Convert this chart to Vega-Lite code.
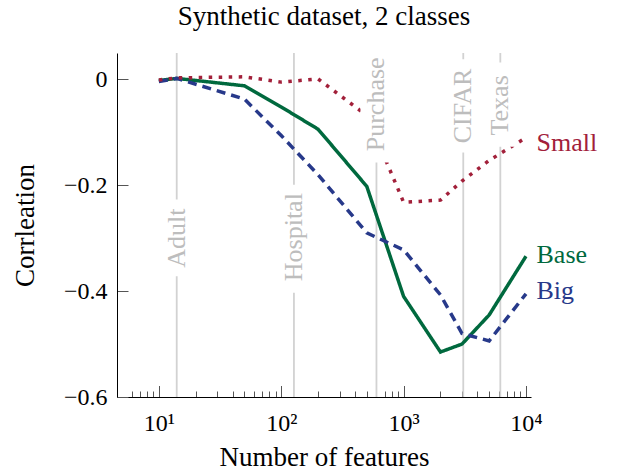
{
  "$schema": "https://vega.github.io/schema/vega-lite/v6.json",
  "width": 414,
  "height": 344,
  "autosize": {"type": "none"},
  "padding": {"left": 117, "top": 53, "right": 89, "bottom": 77},
  "background": "white",
  "config": {"view": {"stroke": null}, "font": "Liberation Serif"},
  "title": {"text": "Synthetic dataset, 2 classes", "font": "Liberation Serif", "fontSize": 27, "fontWeight": "normal", "color": "black", "anchor": "middle", "baseline": "alphabetic", "offset": 0},
  "datasets": {
    "series": [
      {"features": 10, "corr": -0.002, "model": "Base"},
      {"features": 14, "corr": 0.002, "model": "Base"},
      {"features": 50, "corr": -0.012, "model": "Base"},
      {"features": 100, "corr": -0.052, "model": "Base"},
      {"features": 200, "corr": -0.094, "model": "Base"},
      {"features": 500, "corr": -0.202, "model": "Base"},
      {"features": 1000, "corr": -0.41, "model": "Base"},
      {"features": 2000, "corr": -0.515, "model": "Base"},
      {"features": 3000, "corr": -0.5, "model": "Base"},
      {"features": 5000, "corr": -0.445, "model": "Base"},
      {"features": 10000, "corr": -0.334, "model": "Base"},
      {"features": 10, "corr": -0.004, "model": "Big"},
      {"features": 14, "corr": 0.002, "model": "Big"},
      {"features": 50, "corr": -0.037, "model": "Big"},
      {"features": 100, "corr": -0.106, "model": "Big"},
      {"features": 200, "corr": -0.18, "model": "Big"},
      {"features": 500, "corr": -0.29, "model": "Big"},
      {"features": 1000, "corr": -0.322, "model": "Big"},
      {"features": 2000, "corr": -0.407, "model": "Big"},
      {"features": 3000, "corr": -0.48, "model": "Big"},
      {"features": 5000, "corr": -0.494, "model": "Big"},
      {"features": 10000, "corr": -0.405, "model": "Big"},
      {"features": 10, "corr": -0.001, "model": "Small"},
      {"features": 14, "corr": 0.003, "model": "Small"},
      {"features": 50, "corr": 0.005, "model": "Small"},
      {"features": 100, "corr": -0.005, "model": "Small"},
      {"features": 200, "corr": 0.001, "model": "Small"},
      {"features": 500, "corr": -0.068, "model": "Small"},
      {"features": 1000, "corr": -0.232, "model": "Small"},
      {"features": 2000, "corr": -0.228, "model": "Small"},
      {"features": 3000, "corr": -0.192, "model": "Small"},
      {"features": 5000, "corr": -0.153, "model": "Small"},
      {"features": 10000, "corr": -0.11, "model": "Small"}
    ],
    "datasetsMarks": [
      {"name": "Adult", "features": 14, "corr": -0.3, "top": -0.227, "bottom": -0.372},
      {"name": "Hospital", "features": 127, "corr": -0.298, "top": -0.199, "bottom": -0.403},
      {"name": "Purchase", "features": 600, "corr": -0.047, "top": 0.05, "bottom": -0.157},
      {"name": "CIFAR", "features": 3072, "corr": -0.05, "top": 0.038, "bottom": -0.138},
      {"name": "Texas", "features": 6169, "corr": -0.049, "top": 0.032, "bottom": -0.127}
    ],
    "endLabels": [
      {"model": "Small", "features": 10000, "corr": -0.121},
      {"model": "Base", "features": 10000, "corr": -0.332},
      {"model": "Big", "features": 10000, "corr": -0.399}
    ]
  },
  "encoding": {
    "x": {
      "field": "features", "type": "quantitative",
      "scale": {"type": "log", "domain": [5, 10000], "nice": false},
      "axis": {
        "values": [6, 7, 8, 9, 10, 20, 30, 40, 50, 60, 70, 80, 90, 100, 200, 300, 400, 500, 600, 700, 800, 900, 1000, 2000, 3000, 4000, 5000, 6000, 7000, 8000, 9000, 10000],
        "labelExpr": "datum.value == 10 ? '10¹' : datum.value == 100 ? '10²' : datum.value == 1000 ? '10³' : datum.value == 10000 ? '10⁴' : ''",
        "tickSize": {"condition": {"test": "indexof([10, 100, 1000, 10000], datum.value) >= 0", "value": -11.5}, "value": -6},
        "tickColor": "#555", "tickWidth": 1,
        "labelFont": "Liberation Serif", "labelFontSize": 24, "labelColor": "black",
        "labelBaseline": "alphabetic", "labelPadding": 44.5,
        "domainColor": "black", "domainWidth": 1, "grid": false,
        "title": "Number of features", "titleFont": "Liberation Serif", "titleFontSize": 27,
        "titleFontWeight": "normal", "titleColor": "black", "titleBaseline": "alphabetic",
        "titleX": 207, "titleY": 68, "titleAlign": "center"
      }
    },
    "y": {
      "field": "corr", "type": "quantitative",
      "scale": {"domain": [-0.6, 0.05], "nice": false, "zero": false},
      "axis": {
        "values": [0, -0.2, -0.4, -0.6],
        "format": ".1f",
        "labelExpr": "datum.value == 0 ? '0' : datum.label",
        "tickSize": -11, "tickColor": "#555", "tickWidth": 1,
        "labelFont": "Liberation Serif", "labelFontSize": 24, "labelColor": "black",
        "labelPadding": 21,
        "domainColor": "black", "domainWidth": 1, "grid": false,
        "title": "Corrleation", "titleFont": "Liberation Serif", "titleFontSize": 27,
        "titleFontWeight": "normal", "titleColor": "black", "titleBaseline": "alphabetic",
        "titleAngle": 270, "titleAlign": "center", "titleX": -84, "titleY": 172
      }
    }
  },
  "layer": [
    {
      "data": {"name": "datasetsMarks"},
      "mark": {"type": "rule", "color": "#d2d2d2", "strokeWidth": 1.8},
      "encoding": {"y": null}
    },
    {
      "data": {"name": "series"},
      "mark": {"type": "line", "strokeWidth": 3.5},
      "encoding": {
        "color": {
          "field": "model", "type": "nominal",
          "scale": {"domain": ["Small", "Base", "Big"], "range": ["#a2203a", "#00693e", "#27398a"]},
          "legend": null
        },
        "strokeDash": {
          "field": "model", "type": "nominal",
          "scale": {"domain": ["Small", "Base", "Big"], "range": [[3.5, 6.5], [1, 0], [9, 6]]},
          "legend": null
        }
      }
    },
    {
      "data": {"name": "datasetsMarks"},
      "mark": {"type": "bar", "width": 32, "color": "white"},
      "encoding": {
        "y": {"field": "top", "type": "quantitative"},
        "y2": {"field": "bottom"}
      }
    },
    {
      "data": {"name": "datasetsMarks"},
      "mark": {"type": "text", "angle": 270, "align": "center", "baseline": "middle", "font": "Liberation Serif", "fontSize": 26, "color": "#bdbdbd"},
      "encoding": {
        "text": {"field": "name"}
      }
    },
    {
      "data": {"name": "endLabels"},
      "mark": {"type": "text", "align": "left", "baseline": "middle", "dx": 10.5, "font": "Liberation Serif", "fontSize": 26},
      "encoding": {
        "text": {"field": "model"},
        "color": {"field": "model", "type": "nominal", "scale": {"domain": ["Small", "Base", "Big"], "range": ["#a2203a", "#00693e", "#27398a"]}, "legend": null}
      }
    }
  ]
}
